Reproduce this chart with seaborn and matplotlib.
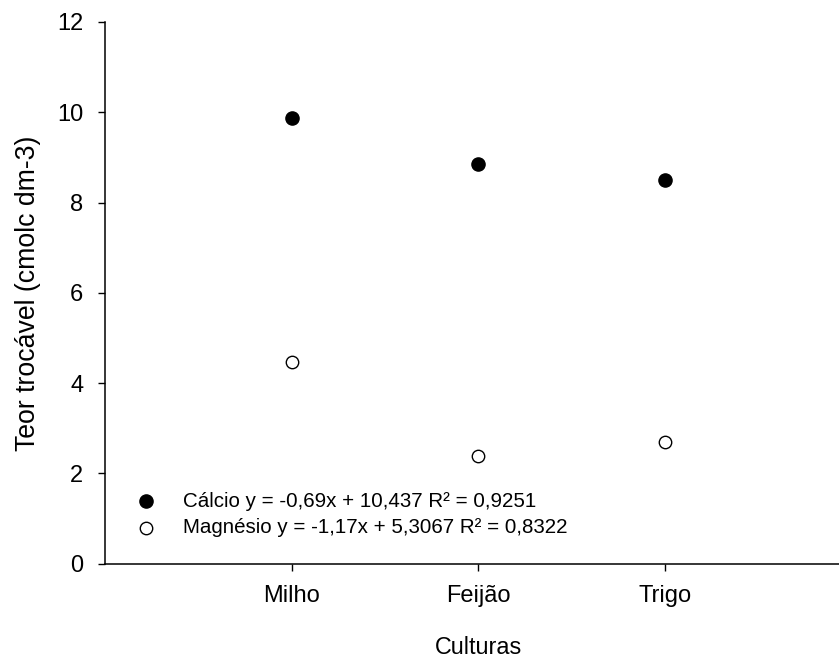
import matplotlib
matplotlib.use("Agg")
import matplotlib.pyplot as plt
import seaborn as sns
import numpy as np
import pandas as pd

categories = ["Milho", "Feijão", "Trigo"]
calcio = [9.87, 8.85, 8.50]
magnesio = [4.46, 2.38, 2.69]
yticks = [0, 2, 4, 6, 8, 10, 12]
label_ca = "Cálcio y = -0,69x + 10,437 R² = 0,9251"
label_mg = "Magnésio y = -1,17x + 5,3067 R² = 0,8322"

sns.set_style("ticks")
plt.rcParams['font.family'] = ['Liberation Sans', 'DejaVu Sans']
plt.rcParams['text.color'] = 'black'
plt.rcParams['axes.labelcolor'] = 'black'

pos = np.arange(1, len(categories) + 1)
df = pd.DataFrame({"pos": np.concatenate([pos, pos]),
                   "val": calcio + magnesio,
                   "serie": [label_ca] * 3 + [label_mg] * 3})

fig = plt.figure(figsize=(8.39, 6.58), dpi=100)
W, H = 839, 658
ax = fig.add_axes([105 / W, 1 - 563.7 / H, (851.8 - 105) / W, (563.7 - 22) / H])

sns.scatterplot(data=df[df.serie == label_ca], x="pos", y="val", ax=ax,
                color="black", edgecolor="black", s=90, linewidth=1.0,
                label=label_ca, zorder=3)
sns.scatterplot(data=df[df.serie == label_mg], x="pos", y="val", ax=ax,
                color="white", edgecolor="black", s=80, linewidth=1.0,
                label=label_mg, zorder=3)

ax.set_xlim(0, 4)
ax.set_ylim(0, 12)
ax.set_xticks(pos)
ax.set_xticklabels(categories)
ax.set_yticks(yticks)
ax.set_yticklabels([str(t) for t in yticks])
for sp in ["top", "right"]:
    ax.spines[sp].set_visible(False)
for sp in ["left", "bottom"]:
    ax.spines[sp].set_linewidth(1.1)
    ax.spines[sp].set_color("black")
ax.tick_params(axis="both", direction="out", length=5, width=1.0,
               colors="black", labelsize=17, pad=10.5)
ax.set_xlabel("Culturas", fontsize=16.8, labelpad=20.5)
ax.set_ylabel("Teor trocável (cmolc dm-3)", fontsize=19.2, labelpad=11.5)

leg = ax.legend(loc="lower left", bbox_to_anchor=((138.3 - 105) / 746.8, 0.049),
                frameon=False, fontsize=14.8, handlelength=0.75,
                handletextpad=1.42, borderpad=0, labelspacing=0.36,
                borderaxespad=0)

fig.savefig("out.png", dpi=100)
